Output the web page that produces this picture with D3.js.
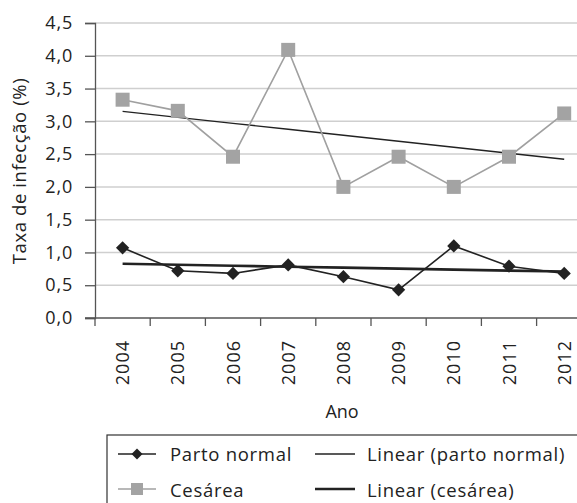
<!DOCTYPE html>
<html>
<head>
<meta charset="utf-8">
<script src="https://cdn.jsdelivr.net/npm/d3@7"></script>
<style>
  html, body { margin: 0; padding: 0; background: #fff; }
  svg { display: block; }
  text { font-family: "Open Sans", "Noto Sans", sans-serif; fill: #222; }
</style>
</head>
<body>
<svg id="chart" width="577" height="503"></svg>
<script>
// Infection rates (%) per year by type of delivery
const years = ["2004","2005","2006","2007","2008","2009","2010","2011","2012"];
const partoNormal = [1.07, 0.72, 0.68, 0.81, 0.63, 0.43, 1.10, 0.79, 0.68];
const cesarea = [3.33, 3.16, 2.46, 4.09, 2.00, 2.46, 2.00, 2.46, 3.12];
const yTicks = [0, 0.5, 1, 1.5, 2, 2.5, 3, 3.5, 4, 4.5];

const svg = d3.select("#chart");
const W = 577;
const plotLeft = 95, plotTop = 23, plotBottom = 318;

const x = d3.scaleBand().domain(years).range([plotLeft, plotLeft + 9 * 55.2]).padding(0);
const y = d3.scaleLinear().domain([0, 4.5]).range([plotBottom, plotTop]);
const cx = d => x(d) + x.bandwidth() / 2;
const fmt = v => d3.format(".1f")(v).replace(".", ",");

// least-squares trend over the year index
function trend(vals) {
  const n = vals.length, xs = d3.range(n);
  const mx = d3.mean(xs), my = d3.mean(vals);
  const b = d3.sum(xs, i => (i - mx) * (vals[i] - my)) / d3.sum(xs, i => (i - mx) ** 2);
  const a = my - b * mx;
  return xs.map(i => a + b * i);
}

// horizontal gridlines
svg.append("g").selectAll("line").data(yTicks.filter(t => t > 0)).join("line")
  .attr("x1", plotLeft).attr("x2", W)
  .attr("y1", d => y(d)).attr("y2", d => y(d))
  .attr("stroke", "#cfcfcf").attr("stroke-width", 1.5);

// y axis
const yAxis = svg.append("g").attr("transform", `translate(${plotLeft},0)`)
  .call(d3.axisLeft(y).tickValues(yTicks).tickFormat(fmt).tickSize(10).tickPadding(12));
yAxis.select(".domain").attr("stroke", "#555").attr("stroke-width", 1.3);
yAxis.selectAll(".tick line").attr("stroke", "#555").attr("stroke-width", 1.3);
yAxis.selectAll("text").style("font-size", "18px").style("letter-spacing", "0.8px")
  .attr("fill", "#222")
  .style("font-family", "'Open Sans', 'Noto Sans', sans-serif");

// x axis baseline and ticks at band boundaries
svg.append("line").attr("x1", plotLeft - 10).attr("x2", W).attr("y1", plotBottom).attr("y2", plotBottom)
  .attr("stroke", "#555").attr("stroke-width", 1.3);
svg.append("g").selectAll("line").data(years).join("line")
  .attr("x1", d => x(d)).attr("x2", d => x(d))
  .attr("y1", plotBottom).attr("y2", plotBottom + 8)
  .attr("stroke", "#555").attr("stroke-width", 1.3);
svg.append("g").selectAll("text").data(years).join("text")
  .attr("transform", d => `translate(${cx(d) + 6.5},${plotBottom + 22}) rotate(-90)`)
  .attr("text-anchor", "end")
  .style("font-size", "18px").style("letter-spacing", "1px")
  .text(d => d);

// axis titles
svg.append("text").attr("x", 342).attr("y", 418).attr("text-anchor", "middle")
  .style("font-size", "18px").text("Ano");
svg.append("text").attr("transform", "translate(26,171) rotate(-90)")
  .attr("text-anchor", "middle").style("font-size", "18.5px").style("letter-spacing", "0.6px")
  .text("Taxa de infecção (%)");

const line = d3.line().x((d, i) => cx(years[i])).y(d => y(d));

// trend line for cesárea
svg.append("path").datum(trend(cesarea)).attr("d", line)
  .attr("fill", "none").attr("stroke", "#222").attr("stroke-width", 1.4);

// cesárea series
svg.append("path").datum(cesarea).attr("d", line)
  .attr("fill", "none").attr("stroke", "#a0a0a0").attr("stroke-width", 1.6);
svg.append("g").selectAll("rect").data(cesarea).join("rect")
  .attr("x", (d, i) => cx(years[i]) - 7).attr("y", d => y(d) - 7)
  .attr("width", 14).attr("height", 14).attr("fill", "#a3a3a3");

// parto normal series and its trend
svg.append("path").datum(partoNormal).attr("d", line)
  .attr("fill", "none").attr("stroke", "#222").attr("stroke-width", 1.6);
svg.append("path").datum(trend(partoNormal)).attr("d", line)
  .attr("fill", "none").attr("stroke", "#222").attr("stroke-width", 2.6);
const diamond = d3.symbol().type(d3.symbolSquare).size(88);
svg.append("g").selectAll("path").data(partoNormal).join("path")
  .attr("d", diamond)
  .attr("transform", (d, i) => `translate(${cx(years[i])},${y(d)}) rotate(45)`)
  .attr("fill", "#222");

// legend
const lg = svg.append("g");
lg.append("rect").attr("x", 107).attr("y", 435).attr("width", 500).attr("height", 90)
  .attr("fill", "none").attr("stroke", "#333").attr("stroke-width", 1.2);
const legendText = (xp, yp, s) => lg.append("text").attr("x", xp).attr("y", yp)
  .style("font-size", "18.5px").style("letter-spacing", "0.7px").text(s);
// row 1
lg.append("line").attr("x1", 118).attr("x2", 156).attr("y1", 454).attr("y2", 454)
  .attr("stroke", "#222").attr("stroke-width", 1.6);
lg.append("path").attr("d", d3.symbol().type(d3.symbolSquare).size(60))
  .attr("transform", "translate(137,454) rotate(45)").attr("fill", "#222");
legendText(170, 461, "Parto normal");
lg.append("line").attr("x1", 315).attr("x2", 355).attr("y1", 454).attr("y2", 454)
  .attr("stroke", "#222").attr("stroke-width", 1.3);
legendText(367, 461, "Linear (parto normal)");
// row 2
lg.append("line").attr("x1", 118).attr("x2", 156).attr("y1", 489).attr("y2", 489)
  .attr("stroke", "#a0a0a0").attr("stroke-width", 1.6);
lg.append("rect").attr("x", 131).attr("y", 483).attr("width", 12).attr("height", 12)
  .attr("fill", "#a3a3a3");
legendText(170, 497, "Cesárea");
lg.append("line").attr("x1", 315).attr("x2", 355).attr("y1", 489).attr("y2", 489)
  .attr("stroke", "#222").attr("stroke-width", 2.6);
legendText(367, 497, "Linear (cesárea)");
</script>
</body>
</html>
